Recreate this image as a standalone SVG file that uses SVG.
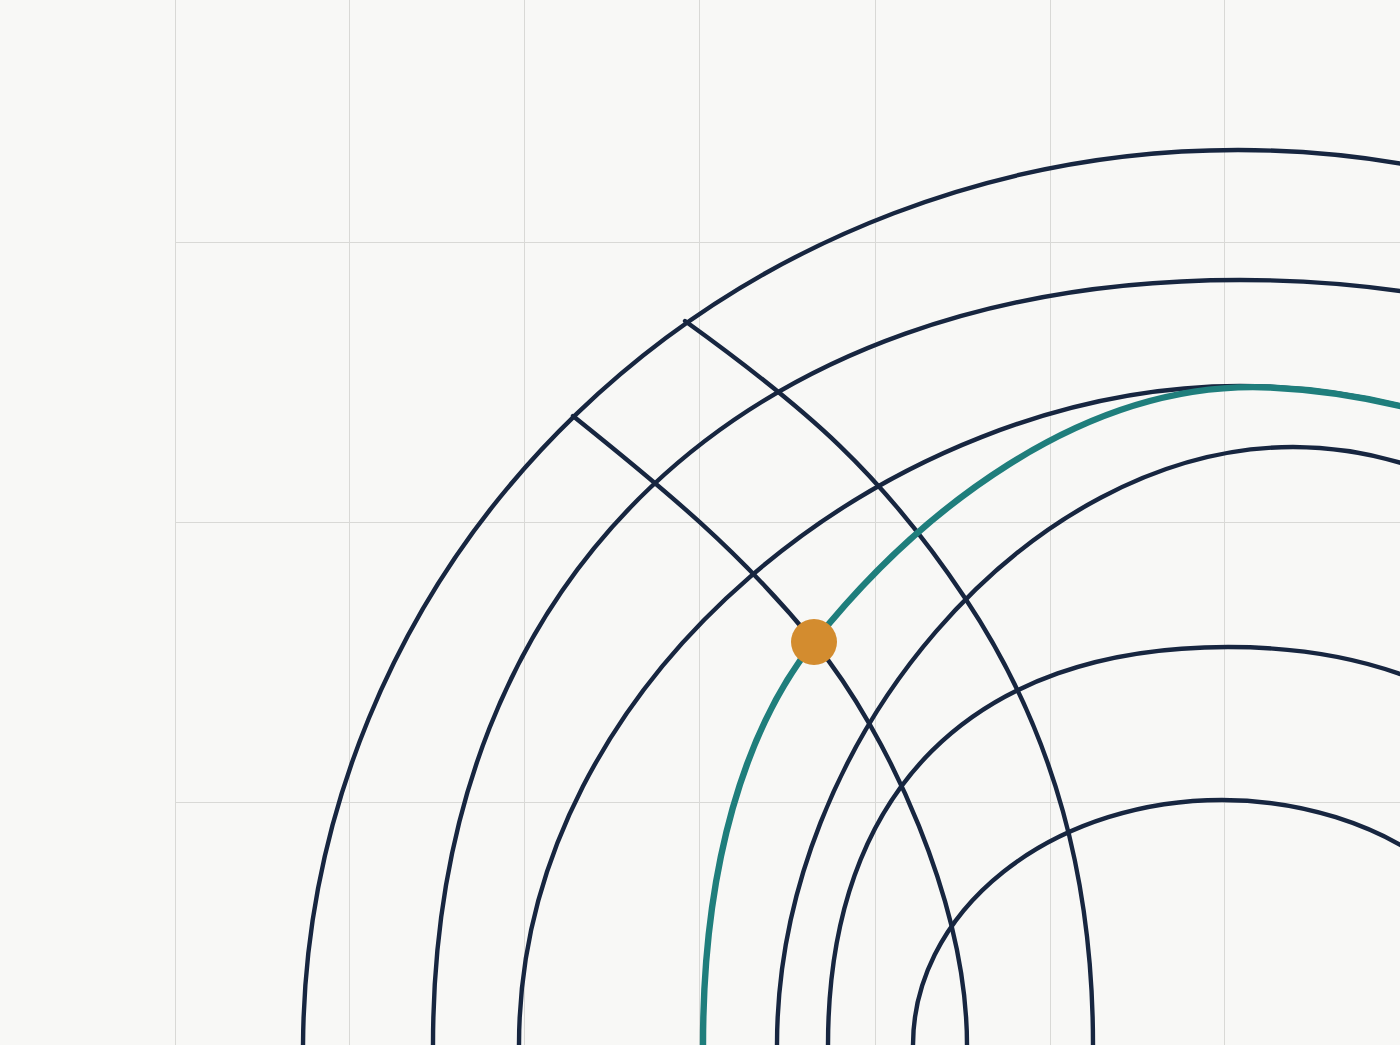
<svg xmlns="http://www.w3.org/2000/svg" width="1400" height="1045" viewBox="0 0 1400 1045">
<style>
.grid{stroke:#d9d9d6;stroke-width:1;fill:none}
.arc{stroke:#172640;stroke-width:4.4;fill:none;stroke-linecap:round;stroke-linejoin:round}
.teal{stroke:#1f7e7c;stroke-width:6.4;fill:none;stroke-linecap:round;stroke-linejoin:round}
</style>
<rect x="0" y="0" width="1400" height="1045" fill="#f8f8f6"/>
<g id="grid" class="grid">
<line x1="175.5" y1="0" x2="175.5" y2="1045"/>
<line x1="349.5" y1="0" x2="349.5" y2="1045"/>
<line x1="524.5" y1="0" x2="524.5" y2="1045"/>
<line x1="699.5" y1="0" x2="699.5" y2="1045"/>
<line x1="875.5" y1="0" x2="875.5" y2="1045"/>
<line x1="1050.5" y1="0" x2="1050.5" y2="1045"/>
<line x1="1224.5" y1="0" x2="1224.5" y2="1045"/>
<line x1="175" y1="242.5" x2="1400" y2="242.5"/>
<line x1="175" y1="522.5" x2="1400" y2="522.5"/>
<line x1="175" y1="802.5" x2="1400" y2="802.5"/>
</g>
<g id="connectors">
<ellipse id="arc-a" class="arc" cx="1238" cy="1050" rx="935" ry="900"/>
<path id="arc-b" class="arc" d="M433,1060 L433,1045 C433,576.4 745.7,280 1240,280 C1734.3,280 2047,576.4 2047,1045"/>
<path id="arc-c" class="arc" d="M519,1060 L519,1045 C519,676 894,386 1240,386 C1586,386 1961,676 1961,1045"/>
<path id="arc-d" class="arc" d="M777,1060 L777,1045 C777,739.4 1029.3,447 1293,447 C1556.7,447 1809,739.4 1809,1045"/>
<path id="arc-e" class="arc" d="M828,1060 L828,1045 C828,790.7 972.4,647 1228,647 C1483.6,647 1628,790.7 1628,1045"/>
<ellipse id="arc-f" class="arc" cx="1222" cy="1045" rx="309" ry="245"/>
<path id="cross-1" class="arc" d="M685,321 C806.7,408.6 881.8,473.2 965,598 C1055.4,733.6 1093,882 1093,1045 L1093,1060"/>
<path id="cross-2" class="arc" d="M573,416 C663.5,488.5 740.8,552 814,642 C889.7,735.1 967,905 967,1045 L967,1060"/>
<path id="teal-path" class="teal" d="M703,1060 L703,1045 C703,865 745.3,727.9 814,642 C914,517 1080,379 1270,387.5 Q1365,391.8 1460,423.1"/>
</g>
<g id="node-dot">
<circle cx="814" cy="642" r="23" fill="#d38c2f"/>
</g>
</svg>
